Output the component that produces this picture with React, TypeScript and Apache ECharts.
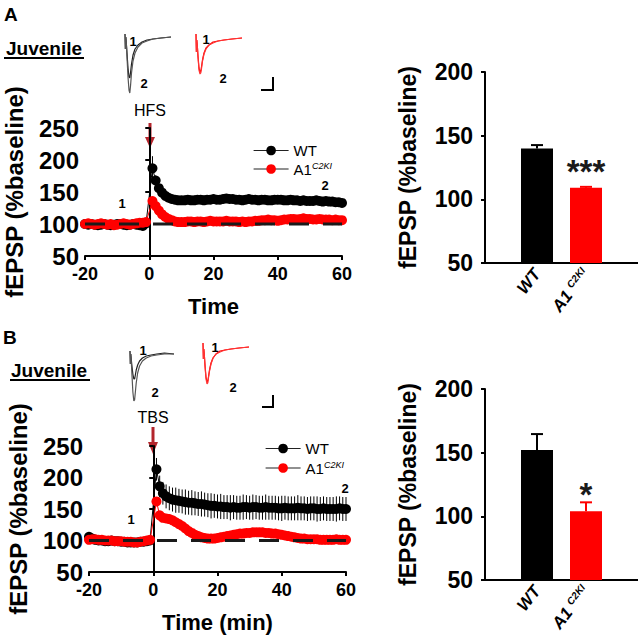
import React, { useEffect, useRef } from "react";
import * as echarts from "echarts";

// ---------- DATA ----------
const timeMin = [
  -20, -19, -18, -17, -16, -15, -14, -13, -12, -11, -10, -9, -8, -7, -6, -5, -4, -3, -2, -1,
  1, 2, 3, 4, 5, 6, 7, 8, 9, 10, 11, 12, 13, 14, 15, 16, 17, 18, 19, 20,
  21, 22, 23, 24, 25, 26, 27, 28, 29, 30, 31, 32, 33, 34, 35, 36, 37, 38, 39, 40,
  41, 42, 43, 44, 45, 46, 47, 48, 49, 50, 51, 52, 53, 54, 55, 56, 57, 58, 59, 60,
];

// Panel A (HFS)
const wtA = [
  100, 99, 100, 99, 98, 99, 100, 99, 98, 99, 100, 100, 99, 98, 99, 100, 99, 98, 97, 101,
  187, 168, 156, 149, 144, 141, 139, 138, 137, 137, 137, 138, 137, 137, 138, 138, 137, 138, 138, 139,
  138, 138, 139, 140, 139, 139, 138, 138, 137, 138, 139, 138, 138, 137, 138, 138, 137, 137, 138, 138,
  138, 137, 137, 138, 137, 137, 136, 137, 136, 136, 136, 137, 136, 135, 136, 135, 135, 134, 134, 133,
];
const wtAErr = [
  2, 2, 2, 2, 2, 2, 2, 2, 2, 2, 2, 2, 2, 2, 2, 2, 2, 2, 2, 2,
  19, 8, 6, 5, 4, 4, 3, 3, 3, 3, 3, 3, 3, 3, 3, 3, 3, 3, 3, 3,
  3, 3, 3, 3, 3, 3, 3, 3, 3, 3, 3, 3, 3, 3, 3, 3, 3, 3, 3, 3,
  3, 3, 3, 3, 3, 3, 3, 3, 3, 3, 3, 3, 3, 3, 3, 3, 3, 3, 3, 3,
];
const kiA = [
  100, 101, 100, 99, 100, 101, 100, 99, 100, 98, 99, 100, 101, 100, 99, 100, 101, 102, 102, 103,
  136, 128, 121, 115, 111, 108, 106, 104, 103, 103, 103, 104, 104, 103, 104, 104, 103, 104, 105, 104,
  104, 104, 104, 105, 104, 104, 104, 103, 104, 103, 104, 104, 105, 105, 106, 106, 107, 106, 106, 105,
  106, 107, 107, 108, 108, 107, 108, 109, 108, 108, 107, 107, 108, 107, 107, 107, 106, 107, 106, 106,
];

// Panel B (TBS)
const wtB = [
  106, 103, 101, 100, 100, 99, 99, 100, 99, 99, 98, 98, 97, 97, 97, 97, 98, 98, 99, 100,
  213, 186, 175, 170, 167, 165, 164, 163, 162, 161, 160, 160, 159, 158, 158, 157, 156, 155, 155, 154,
  154, 153, 153, 152, 153, 152, 152, 153, 153, 152, 153, 153, 152, 152, 153, 152, 152, 152, 151, 151,
  152, 151, 151, 151, 152, 151, 151, 150, 151, 151, 150, 150, 151, 150, 150, 150, 150, 151, 150, 150,
];
const wtBErr = [
  3, 3, 3, 3, 3, 3, 3, 3, 3, 3, 3, 3, 3, 3, 3, 3, 3, 3, 3, 3,
  18, 17, 18, 19, 19, 19, 20, 19, 19, 20, 19, 20, 19, 19, 20, 19, 19, 20, 19, 19,
  20, 19, 19, 20, 19, 19, 19, 20, 19, 19, 20, 19, 19, 19, 20, 19, 19, 19, 19, 20,
  19, 19, 19, 19, 20, 19, 19, 19, 19, 19, 20, 19, 19, 19, 19, 19, 20, 19, 19, 19,
];
const kiB = [
  101, 102, 102, 101, 101, 100, 100, 100, 99, 99, 99, 98, 98, 98, 97, 97, 98, 99, 100, 101,
  162, 140, 136, 135, 134, 132, 129, 126, 123, 119, 115, 112, 109, 107, 105, 104, 103, 103, 103, 104,
  105, 106, 107, 108, 109, 110, 111, 111, 112, 112, 113, 113, 113, 113, 112, 112, 111, 111, 110, 109,
  108, 107, 106, 105, 104, 103, 103, 102, 102, 102, 102, 101, 101, 101, 101, 101, 102, 101, 101, 101,
];

// Bar summaries
const barCategories = ["WT", "A1C2KI"];
const barA = [140, 109];
const barAErr = [2.6, 0.8];
const sigA = ["", "***"];
const barB = [152, 104];
const barBErr = [12.6, 7];
const sigB = ["", "*"];

// Line chart ticks
const lineXTicks = { min: -20, max: 60, interval: 20 };
const lineYTicks = { min: 50, max: 250, interval: 50 };
const barYTicks = { min: 50, max: 200, interval: 50 };

// Example traces (inset), relative units
const traceT = [0, 0.4, 0.8, 1.2, 2, 3, 4, 4.8, 5.6, 6.5, 8, 10, 13, 17, 22, 28, 36, 46];
const trA_WT1 = [3, -12, 0, -4, -16, -31, -40, -41, -35, -27, -18, -12, -8, -5, -3, -2, -1, 0];
const trA_WT2 = [3, -12, 0, -4, -20, -40, -53, -56, -48, -36, -24, -16, -10, -6, -4, -2, -1, 0];
const trA_KI1 = [4, -14, -2, -6, -18, -30, -34, -33, -28, -22, -15, -10, -7, -4, -3, -2, -1, 0];
const trA_KI2 = [4, -14, -2, -6, -19, -32, -36, -35, -30, -23, -16, -11, -7, -5, -3, -2, -1, 0];
const trB_WT1 = [3, -10, 0, -4, -12, -20, -25, -25, -21, -16, -11, -7, -4, -2, -1, 0, 1, 0];
const trB_WT2 = [3, -10, 0, -4, -20, -38, -47, -46, -38, -29, -19, -12, -7, -4, -2, -1, 0, 0];
const trB_KI1 = [4, -12, -2, -6, -18, -30, -35, -34, -29, -23, -16, -11, -7, -4, -3, -2, -1, 0];
const trB_KI2 = [4, -12, -2, -6, -19, -32, -37, -36, -30, -24, -17, -11, -7, -5, -3, -2, -1, 0];

// ---------- STYLE ----------
const FONT = "'Liberation Sans', Arial, sans-serif";
const RED = "#ff0000";
const BLACK = "#000000";
const ARROW = "#b3252c";

const zip = (xs: number[], ys: number[]) => xs.map((x, i) => [x, ys[i]]);
const zip3 = (xs: number[], ys: number[], es: number[]) => xs.map((x, i) => [x, ys[i], es[i]]);

function lineErrRender(color: string) {
  return (params: any, api: any) => {
    const x = api.value(0);
    const y = api.value(1);
    const e = api.value(2);
    const top = api.coord([x, y + e]);
    const bot = api.coord([x, y - e]);
    return {
      type: "line",
      shape: { x1: top[0], y1: top[1], x2: bot[0], y2: bot[1] },
      style: { stroke: color, lineWidth: 1 },
    };
  };
}

function barErrRender(colors: string[]) {
  return (params: any, api: any) => {
    const x = api.value(0);
    const y = api.value(1);
    const e = api.value(2);
    const base = api.coord([x, y]);
    const top = api.coord([x, y + e]);
    const c = colors[params.dataIndex];
    return {
      type: "group",
      children: [
        { type: "line", shape: { x1: base[0], y1: base[1], x2: top[0], y2: top[1] }, style: { stroke: c, lineWidth: 2 } },
        { type: "line", shape: { x1: top[0] - 6, y1: top[1], x2: top[0] + 6, y2: top[1] }, style: { stroke: c, lineWidth: 2 } },
      ],
    };
  };
}

const legendFormatter = (name: string) => (name === "A1C2KI" ? "{n|A1}{s|C2KI}" : "{n|WT}");
const legendRich = {
  n: { fontSize: 15, lineHeight: 16, fontFamily: FONT, color: "#000" },
  s: { fontSize: 9, lineHeight: 9, verticalAlign: "top", fontStyle: "italic", fontFamily: FONT, color: "#000" },
};

function lineAxes(grid: number) {
  const x = {
    type: "value",
    gridIndex: grid,
    ...lineXTicks,
    axisLine: { show: true, lineStyle: { color: "#000", width: 2 } },
    axisTick: { show: true, length: 4, lineStyle: { color: "#000", width: 2 } },
    axisLabel: { color: "#000", fontSize: 18, fontWeight: "bold", fontFamily: FONT, margin: 9 },
    splitLine: { show: false },
    nameLocation: "middle",
    nameGap: 39,
    nameTextStyle: { color: "#000", fontSize: 22, fontWeight: "bold", fontFamily: FONT },
  };
  const y = {
    type: "value",
    gridIndex: grid,
    ...lineYTicks,
    axisLine: { show: true, lineStyle: { color: "#000", width: 2 } },
    axisTick: { show: true, length: 4, lineStyle: { color: "#000", width: 2 } },
    axisLabel: { color: "#000", fontSize: 24, fontWeight: "bold", fontFamily: FONT, margin: 6 },
    splitLine: { show: false },
    name: "fEPSP (%baseline)",
    nameLocation: "middle",
    nameGap: 59,
    nameRotate: 90,
    nameTextStyle: { color: "#000", fontSize: 24, fontWeight: "bold", fontFamily: FONT },
  };
  return { x, y };
}

function lineSeries(grid: number, wt: number[], wtErr: number[], ki: number[]) {
  return [
    {
      type: "custom",
      xAxisIndex: grid,
      yAxisIndex: grid,
      renderItem: lineErrRender(BLACK),
      data: zip3(timeMin, wt, wtErr),
      silent: true,
      z: 2,
    },
    {
      name: "WT",
      type: "line",
      xAxisIndex: grid,
      yAxisIndex: grid,
      data: zip(timeMin, wt),
      symbol: "circle",
      symbolSize: 10,
      itemStyle: { color: BLACK },
      lineStyle: { color: BLACK, width: 1 },
      z: 3,
    },
    {
      name: "A1C2KI",
      type: "line",
      xAxisIndex: grid,
      yAxisIndex: grid,
      data: zip(timeMin, ki),
      symbol: "circle",
      symbolSize: 10,
      itemStyle: { color: RED },
      lineStyle: { color: RED, width: 1 },
      z: 4,
    },
    {
      type: "line",
      xAxisIndex: grid,
      yAxisIndex: grid,
      data: [[lineXTicks.min, 100], [lineXTicks.max, 100]],
      symbol: "none",
      lineStyle: { color: "#1a1a1a", width: 3, type: [20, 14] },
      silent: true,
      z: 5,
    },
  ];
}

function barParts(axisGrid: number, catGrid: number, vals: number[], errs: number[], sig: string[]) {
  const colors = [BLACK, RED];
  const axisX = {
    type: "value",
    gridIndex: axisGrid,
    min: 0,
    max: 1,
    axisLine: { show: true, lineStyle: { color: "#000", width: 2 } },
    axisTick: { show: false },
    axisLabel: { show: false },
    splitLine: { show: false },
  };
  const axisY = {
    type: "value",
    gridIndex: axisGrid,
    ...barYTicks,
    axisLine: { show: true, lineStyle: { color: "#000", width: 2 } },
    axisTick: { show: true, length: 4, lineStyle: { color: "#000", width: 2 } },
    axisLabel: { color: "#000", fontSize: 23, fontWeight: "bold", fontFamily: FONT, margin: 12 },
    splitLine: { show: false },
    name: "fEPSP (%baseline)",
    nameLocation: "middle",
    nameGap: 66,
    nameRotate: 90,
    nameTextStyle: { color: "#000", fontSize: 23, fontWeight: "bold", fontFamily: FONT },
  };
  const catX = {
    type: "category",
    gridIndex: catGrid,
    data: barCategories,
    axisLine: { show: false },
    axisTick: { show: false },
    axisLabel: {
      rotate: 52,
      margin: 8,
      interval: 0,
      color: "#000",
      formatter: (v: string) => (v === "A1C2KI" ? "{n|A1 }{s|C2KI}" : "{n|WT}"),
      rich: {
        n: { fontSize: 17, lineHeight: 18, fontWeight: "bold", fontStyle: "italic", fontFamily: FONT, color: "#000" },
        s: { fontSize: 10, lineHeight: 10, verticalAlign: "top", fontStyle: "italic", fontWeight: "bold", fontFamily: FONT, color: "#000" },
      },
    },
  };
  const catY = { type: "value", gridIndex: catGrid, ...barYTicks, show: false };
  const series = [
    {
      type: "bar",
      xAxisIndex: catGrid,
      yAxisIndex: catGrid,
      barWidth: 32,
      data: vals.map((v, i) => ({ value: v, itemStyle: { color: colors[i] } })),
      label: {
        show: true,
        position: "top",
        distance: 0,
        formatter: (p: any) => sig[p.dataIndex],
        fontSize: 33,
        fontWeight: "bold",
        fontFamily: FONT,
        color: "#1a1a1a",
      },
      z: 2,
    },
    {
      type: "custom",
      xAxisIndex: catGrid,
      yAxisIndex: catGrid,
      renderItem: barErrRender(colors),
      data: vals.map((v, i) => [i, v, errs[i]]),
      silent: true,
      z: 3,
    },
  ];
  return { axisX, axisY, catX, catY, series };
}

function traceAxes(grid: number) {
  return {
    x: { type: "value", gridIndex: grid, min: 0, max: 46, show: false },
    y: { type: "value", gridIndex: grid, min: -60, max: 5, show: false },
  };
}

function traceSeries(grid: number, v: number[], color: string) {
  return {
    type: "line",
    xAxisIndex: grid,
    yAxisIndex: grid,
    data: zip(traceT, v),
    symbol: "none",
    lineStyle: { color, width: 1.2 },
    silent: true,
  };
}

function txt(x: number, y: number, text: string, size: number, bold = true, align = "left", color = "#000") {
  return {
    type: "text",
    x,
    y,
    style: {
      text,
      fill: color,
      font: `${bold ? "bold " : ""}${size}px ${FONT}`,
      align,
      verticalAlign: "middle",
    },
  };
}

function legendAt(left: number, top: number, gap: number) {
  return {
    left,
    top,
    padding: 0,
    orient: "vertical",
    itemWidth: 35,
    itemHeight: 12,
    itemGap: gap,
    data: ["WT", "A1C2KI"],
    formatter: legendFormatter,
    textStyle: { rich: legendRich, color: "#000" },
    lineStyle: { color: "#222", width: 1.2 },
    selectedMode: false,
  };
}

const g = (left: number, top: number, width: number, height: number) => ({
  left,
  top,
  width,
  height,
  containLabel: false,
  outerBoundsMode: "none",
});

function buildOption() {
  const la = lineAxes(0);
  const lb = lineAxes(1);
  (la.x as any).name = "Time";
  (lb.x as any).name = "Time (min)";
  const bA = barParts(2, 4, barA, barAErr, sigA);
  const bB = barParts(3, 5, barB, barBErr, sigB);
  const t6 = traceAxes(6);
  const t7 = traceAxes(7);
  const t8 = traceAxes(8);
  const t9 = traceAxes(9);

  return {
    animation: false,
    backgroundColor: "#ffffff",
    textStyle: { fontFamily: FONT },
    grid: [
      g(85, 128, 257, 128),
      g(89, 446, 257, 126),
      g(485, 72, 153, 191),
      g(485, 389, 153, 191),
      g(512.5, 72, 98, 191),
      g(512.5, 389, 98, 191),
      g(125, 32, 46, 65),
      g(196, 33, 46, 65),
      g(130, 349, 44, 65),
      g(203, 342, 46, 65),
    ],
    xAxis: [la.x, lb.x, bA.axisX, bB.axisX, bA.catX, bB.catX, t6.x, t7.x, t8.x, t9.x],
    yAxis: [la.y, lb.y, bA.axisY, bB.axisY, bA.catY, bB.catY, t6.y, t7.y, t8.y, t9.y],
    legend: [legendAt(253, 143, 3), legendAt(265, 441, 4)],
    series: [
      ...lineSeries(0, wtA, wtAErr, kiA),
      ...lineSeries(1, wtB, wtBErr, kiB),
      ...bA.series,
      ...bB.series,
      traceSeries(6, trA_WT1, "#222"),
      traceSeries(6, trA_WT2, "#555"),
      traceSeries(7, trA_KI1, RED),
      traceSeries(7, trA_KI2, "#ff3333"),
      traceSeries(8, trB_WT1, "#222"),
      traceSeries(8, trB_WT2, "#555"),
      traceSeries(9, trB_KI1, RED),
      traceSeries(9, trB_KI2, "#ff3333"),
    ],
    graphic: [
      txt(4, 14, "A", 19),
      txt(3, 337, "B", 19),
      txt(6, 48, "Juvenile", 19),
      { type: "line", shape: { x1: 4, y1: 58, x2: 84, y2: 58 }, style: { stroke: "#000", lineWidth: 2 } },
      txt(11, 370, "Juvenile", 19),
      { type: "line", shape: { x1: 10, y1: 380, x2: 90, y2: 380 }, style: { stroke: "#000", lineWidth: 2 } },
      txt(150, 110, "HFS", 16, false, "center"),
      txt(153, 417, "TBS", 16, false, "center"),
      { type: "line", shape: { x1: 150, y1: 123, x2: 150, y2: 140 }, style: { stroke: ARROW, lineWidth: 3 } },
      { type: "polygon", shape: { points: [[145, 137], [155, 137], [150, 148]] }, style: { fill: ARROW } },
      { type: "line", shape: { x1: 153, y1: 427, x2: 153, y2: 444 }, style: { stroke: ARROW, lineWidth: 3 } },
      { type: "polygon", shape: { points: [[148, 442], [158, 442], [153, 454]] }, style: { fill: ARROW } },
      txt(133, 41, "1", 13, true, "center"),
      txt(144, 83, "2", 13, true, "center"),
      txt(206, 39, "1", 13, true, "center"),
      txt(223, 78, "2", 13, true, "center"),
      txt(143, 350, "1", 13, true, "center"),
      txt(155, 392, "2", 13, true, "center"),
      txt(215, 347, "1", 13, true, "center"),
      txt(233, 387, "2", 13, true, "center"),
      txt(122, 203, "1", 13, true, "center"),
      txt(325, 185, "2", 13, true, "center"),
      txt(131, 519, "1", 13, true, "center"),
      txt(345, 488, "2", 13, true, "center"),
      { type: "polyline", shape: { points: [[261, 90], [273, 90], [273, 77]] }, style: { stroke: "#000", lineWidth: 2, fill: "none" } },
      { type: "polyline", shape: { points: [[262, 407], [273, 407], [273, 395]] }, style: { stroke: "#000", lineWidth: 2, fill: "none" } },
    ],
  };
}

export default function App() {
  const ref = useRef<HTMLDivElement>(null);
  useEffect(() => {
    if (!ref.current) return;
    const chart = echarts.init(ref.current, undefined, { renderer: "svg" });
    chart.setOption(buildOption() as any);
    return () => chart.dispose();
  }, []);
  return (
    <div
      ref={ref}
      style={{ position: "absolute", left: 0, top: 0, width: 638, height: 635, background: "#fff" }}
    />
  );
}
